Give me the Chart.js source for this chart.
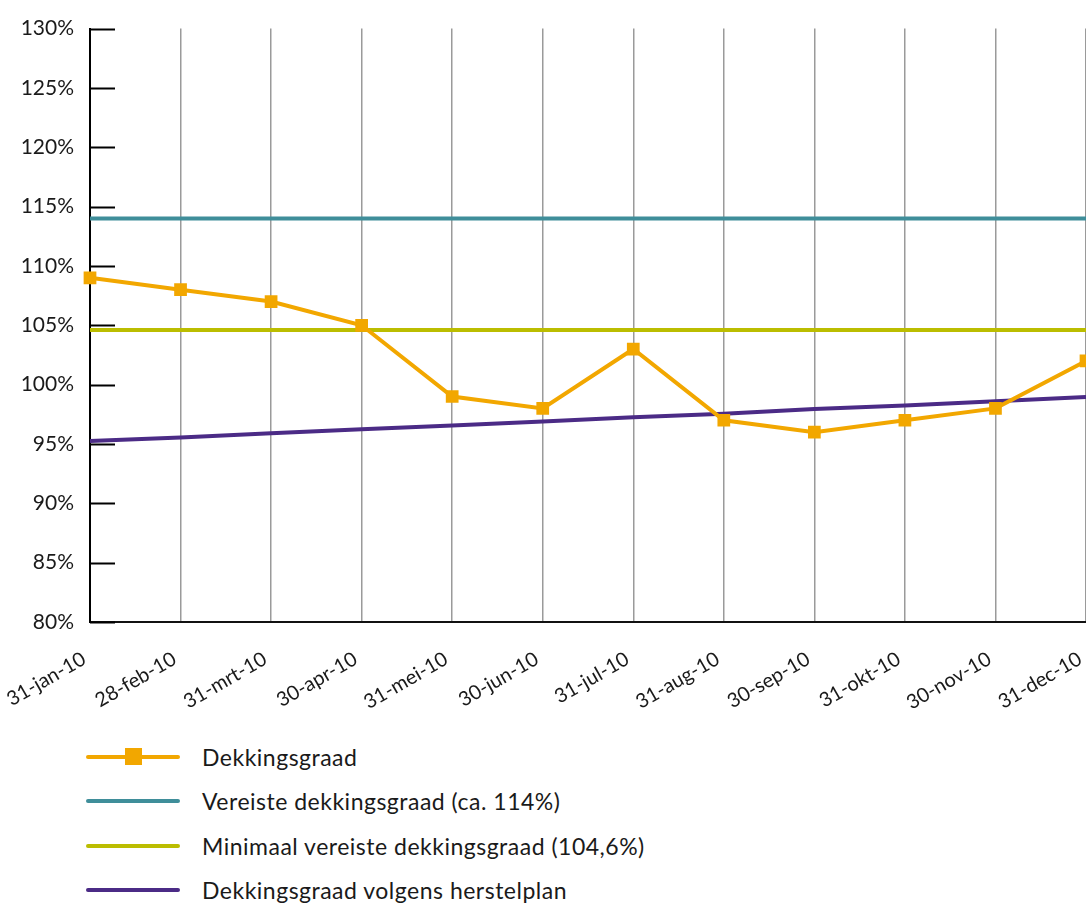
<!DOCTYPE html>
<html>
<head>
<meta charset="utf-8">
<script src="https://cdn.jsdelivr.net/npm/chart.js@4/dist/chart.umd.min.js"></script>
<style>
  html, body { margin: 0; padding: 0; background: #fff; }
  #wrap { position: relative; width: 1086px; height: 904px; overflow: hidden; }
  #c { position: absolute; left: 0; top: 0; }
  .legend { position: absolute; left: 0; top: 0; font-family: Lato, "Open Sans", sans-serif; font-size: 23px; letter-spacing: 0.5px; color: #1a1a1a; }
  .row { position: absolute; left: 0; height: 30px; width: 800px; }
  .row .ln { position: absolute; left: 86px; width: 94px; height: 4px; border-radius: 2px; top: 13px; }
  .row .mk { position: absolute; left: 125px; width: 17px; height: 17px; top: 6px; }
  .row .tx { position: absolute; left: 202px; top: 0px; line-height: 30px; white-space: nowrap; }
</style>
</head>
<body>
<div id="wrap">
  <canvas id="c" width="1086" height="740"></canvas>
  <div class="legend" id="legend"></div>
</div>
<script>
// Month-end dates of 2010
const categories = ['31-jan-10', '28-feb-10', '31-mrt-10', '30-apr-10', '31-mei-10', '30-jun-10',
                    '31-jul-10', '31-aug-10', '30-sep-10', '31-okt-10', '30-nov-10', '31-dec-10'];

// Funding ratio per month (%)
const dekkingsgraad = [109, 108, 107, 105, 99, 98, 103, 97, 96, 97, 98, 102];
// Required funding ratio (approx. 114%)
const vereiste = [114, 114, 114, 114, 114, 114, 114, 114, 114, 114, 114, 114];
// Minimum required funding ratio (104.6%)
const minimaal = [104.6, 104.6, 104.6, 104.6, 104.6, 104.6, 104.6, 104.6, 104.6, 104.6, 104.6, 104.6];
// Funding ratio according to the recovery plan
const herstelplan = [95.25, 95.55, 95.9, 96.25, 96.55, 96.9, 97.25, 97.55, 97.95, 98.25, 98.6, 98.95];

const yTicks = [80, 85, 90, 95, 100, 105, 110, 115, 120, 125, 130];

const seriesNames = ['Dekkingsgraad', 'Vereiste dekkingsgraad (ca. 114%)',
                     'Minimaal vereiste dekkingsgraad (104,6%)', 'Dekkingsgraad volgens herstelplan'];

const COLORS = { orange: '#F2A700', teal: '#3F8E9A', lime: '#BBBD00', purple: '#4B2B86' };

const FONT = 'Lato, "Open Sans", sans-serif';

// short tick marks pointing into the plot from the y axis
const innerTicks = {
  id: 'innerTicks',
  afterDatasetsDraw(chart) {
    const y = chart.scales.y, ctx = chart.ctx, left = chart.chartArea.left;
    ctx.save();
    ctx.strokeStyle = '#000';
    ctx.lineWidth = 2;
    yTicks.forEach(v => {
      const py = Math.round(y.getPixelForValue(v)) + 0.5;
      ctx.beginPath();
      ctx.moveTo(left, py);
      ctx.lineTo(left + 25, py);
      ctx.stroke();
    });
    ctx.restore();
  }
};

const lineDs = (label, data, color, extra) => Object.assign({
  label, data, borderColor: color, backgroundColor: color, borderWidth: 4,
  pointRadius: 0, pointHoverRadius: 0, tension: 0, fill: false
}, extra || {});

new Chart(document.getElementById('c'), {
  type: 'line',
  data: {
    labels: categories,
    datasets: [
      lineDs(seriesNames[0], dekkingsgraad, COLORS.orange, {
        pointStyle: 'rect', pointRadius: 9, pointBorderWidth: 0, order: 0
      }),
      lineDs(seriesNames[1], vereiste, COLORS.teal, { order: 1 }),
      lineDs(seriesNames[2], minimaal, COLORS.lime, { order: 2 }),
      lineDs(seriesNames[3], herstelplan, COLORS.purple, { order: 3 })
    ]
  },
  options: {
    responsive: false,
    animation: false,
    devicePixelRatio: 1,
    layout: { autoPadding: false, padding: { top: 28, right: 0, bottom: 0, left: 0 } },
    plugins: { legend: { display: false }, tooltip: { enabled: false } },
    scales: {
      x: {
        offset: false,
        grid: { color: '#9a9a9a', lineWidth: 1.5, drawTicks: false },
        border: { color: '#111', width: 2 },
        ticks: {
          minRotation: 30, maxRotation: 30, autoSkip: false,
          padding: 25, labelOffset: -6, color: '#1a1a1a', font: { family: FONT, size: 20 }
        },
        afterFit(scale) { scale.height = 118; scale.paddingLeft = 0; scale.paddingRight = 0; }
      },
      y: {
        min: 80, max: 130,
        afterBuildTicks(scale) { scale.ticks = yTicks.map(v => ({ value: v })); },
        grid: { display: false, drawTicks: false },
        border: { color: '#000', width: 2 },
        ticks: {
          padding: 16, color: '#1a1a1a', font: { family: FONT, size: 21 },
          callback: v => v + '%'
        },
        afterFit(scale) { scale.width = 90; }
      }
    }
  },
  plugins: [innerTicks]
});

// legend rows
const legend = document.getElementById('legend');
const legendColors = [COLORS.orange, COLORS.teal, COLORS.lime, COLORS.purple];
const rowTops = [742, 786, 831, 875];
seriesNames.forEach((name, i) => {
  const row = document.createElement('div');
  row.className = 'row';
  row.style.top = rowTops[i] + 'px';
  const ln = document.createElement('div');
  ln.className = 'ln';
  ln.style.background = legendColors[i];
  row.appendChild(ln);
  if (i === 0) {
    const mk = document.createElement('div');
    mk.className = 'mk';
    mk.style.background = legendColors[i];
    row.appendChild(mk);
  }
  const tx = document.createElement('div');
  tx.className = 'tx';
  tx.textContent = name;
  row.appendChild(tx);
  legend.appendChild(row);
});
</script>
</body>
</html>
